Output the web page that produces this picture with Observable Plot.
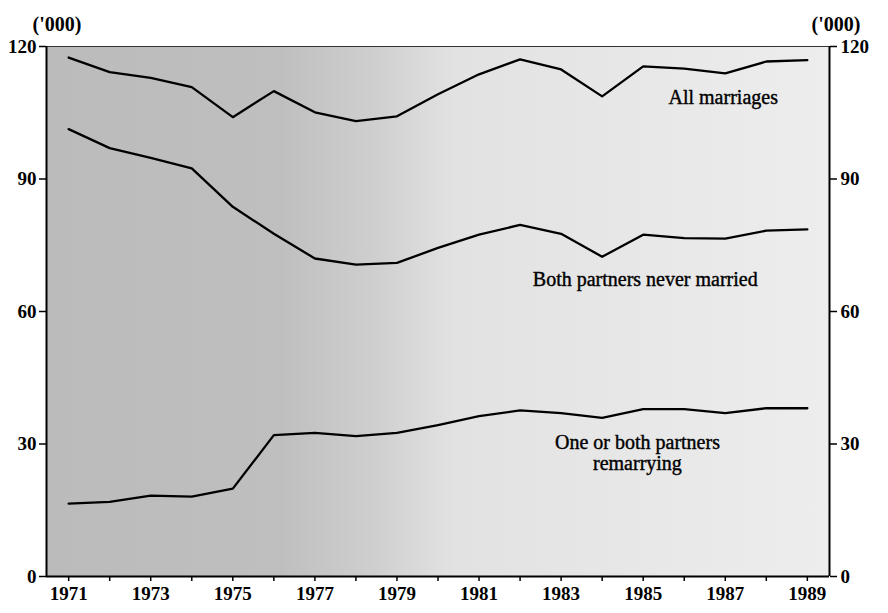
<!DOCTYPE html>
<html>
<head>
<meta charset="utf-8">
<script src="https://cdn.jsdelivr.net/npm/d3@7"></script>
<script src="https://cdn.jsdelivr.net/npm/@observablehq/plot@0.6"></script>
<style>
  html, body { margin: 0; padding: 0; background: #fff; }
  #chart svg { display: block; }
</style>
</head>
<body>
<div id="chart"></div>
<script>
const years = [1971,1972,1973,1974,1975,1976,1977,1978,1979,1980,1981,1982,1983,1984,1985,1986,1987,1988,1989];
const allMarriages = [117.5,114.2,112.9,110.8,104.0,109.9,105.1,103.1,104.2,109.2,113.7,117.1,114.8,108.7,115.5,115.0,113.9,116.6,116.9];
const neverMarried = [101.3,97.0,94.8,92.4,83.7,77.6,72.0,70.6,71.0,74.4,77.4,79.6,77.6,72.4,77.4,76.6,76.5,78.3,78.6];
const remarrying = [16.5,16.9,18.3,18.1,19.9,32.0,32.5,31.8,32.5,34.3,36.3,37.6,37.0,35.9,37.9,37.9,37.0,38.1,38.1];
const yTicks = [0,30,60,90,120];
const labelText = ["All marriages","Both partners never married","One or both partners\nremarrying"];
const labelYear = [1986.95,1985.05,1984.86];
const labelValue = [108.5,67.4,28.1];

const series = [
  {name: "All marriages", values: allMarriages},
  {name: "Both partners never married", values: neverMarried},
  {name: "One or both partners remarrying", values: remarrying}
];
const rows = series.flatMap(s => years.map((y, i) => ({series: s.name, year: y, value: s.values[i]})));
const labels = labelText.map((t, i) => ({text: t, year: labelYear[i], value: labelValue[i]}));

const plot = Plot.plot({
  width: 888,
  height: 613,
  marginLeft: 46,
  marginRight: 59,
  marginTop: 46,
  marginBottom: 37,
  style: {fontFamily: "'Liberation Serif', 'DejaVu Serif', serif", fontSize: "19px", color: "#000", background: "#fff"},
  x: {domain: [1970.46, 1989.54]},
  y: {domain: [0, 120]},
  marks: [
    Plot.frame({fill: "url(#stippleGrad)", stroke: "none"}),
    Plot.ruleY([120], {stroke: "#333", strokeWidth: 1.2}),
    Plot.axisX({ticks: years, tickFormat: d => (d % 2 === 1 ? String(d) : ""), tickSize: 5, tickPadding: 5, fontSize: 19, fontWeight: "bold", label: null, strokeWidth: 1.5}),
    Plot.axisY({anchor: "left", ticks: yTicks, tickSize: 7, tickPadding: 3, fontSize: 19, fontWeight: "bold", label: null, strokeWidth: 1.5}),
    Plot.axisY({anchor: "right", ticks: yTicks, tickSize: 7, tickPadding: 4, fontSize: 19, fontWeight: "bold", label: null, strokeWidth: 1.5}),
    Plot.ruleX([1970.46], {stroke: "#000", strokeWidth: 2}),
    Plot.ruleX([1989.54], {stroke: "#000", strokeWidth: 2}),
    Plot.ruleY([0], {stroke: "#000", strokeWidth: 2}),
    Plot.line(rows, {x: "year", y: "value", z: "series", stroke: "#000", strokeWidth: 2.3}),
    Plot.text(labels, {x: "year", y: "value", text: "text", fontSize: 20, lineHeight: 1.05, fill: "#000", stroke: "#000", strokeWidth: 0.4}),
    Plot.text(["('000)"], {frameAnchor: "top-left", dx: -14, dy: -30, fontSize: 20, fontWeight: "bold"}),
    Plot.text(["('000)"], {frameAnchor: "top-right", dx: 31, dy: -30, fontSize: 20, fontWeight: "bold"})
  ]
});

const svg = d3.select(plot);
const defs = svg.insert("defs", ":first-child");
const grad = defs.append("linearGradient").attr("id", "stippleGrad").attr("x1", "0%").attr("x2", "100%").attr("y1", "0%").attr("y2", "0%");
[["0%", "#bbbbbb"], ["30%", "#bfbfbf"], ["42%", "#cfcfcf"], ["52%", "#e2e2e2"], ["100%", "#ededed"]].forEach(([o, c]) => grad.append("stop").attr("offset", o).attr("stop-color", c));

document.getElementById("chart").appendChild(plot);
</script>
</body>
</html>
